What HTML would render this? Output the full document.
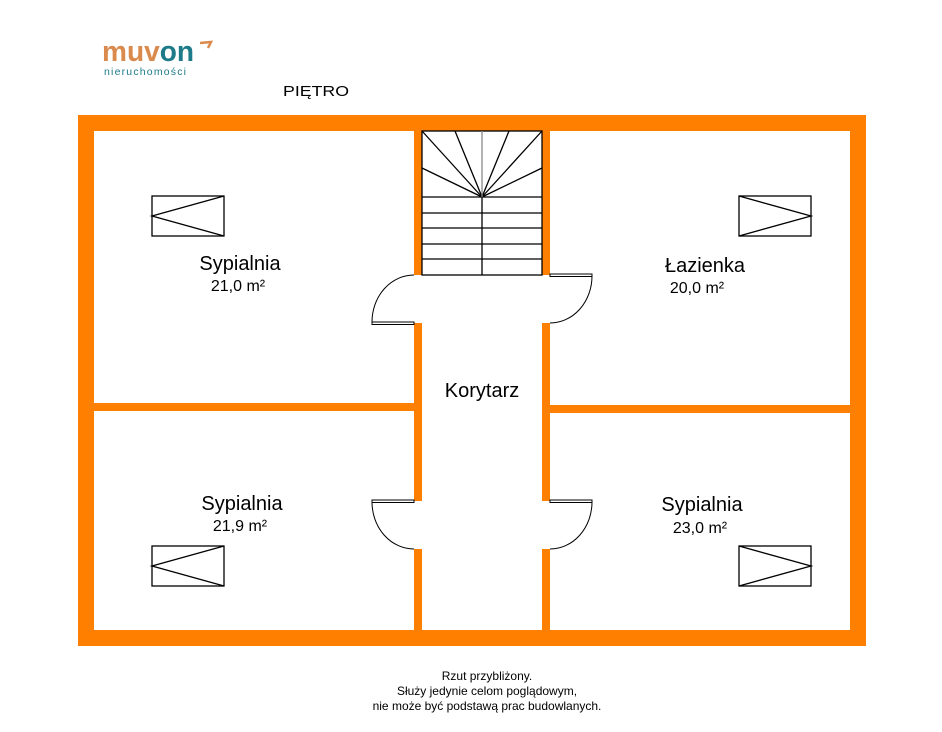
<!DOCTYPE html>
<html><head><meta charset="utf-8"><style>
html,body{margin:0;padding:0;background:#fff;}
svg{display:block;}
text{font-family:"Liberation Sans","DejaVu Sans",sans-serif;}
</style></head><body>
<svg width="942" height="732" viewBox="0 0 942 732" xmlns="http://www.w3.org/2000/svg">
<rect width="942" height="732" fill="#fff"/>
<!-- logo -->
<text x="102" y="61" font-size="29" font-weight="bold" fill="#d98a4c" textLength="92" lengthAdjust="spacingAndGlyphs">muv<tspan fill="#1d7a88">on</tspan></text>
<path d="M200 43 L211 42 L208 48" fill="none" stroke="#d98a4c" stroke-width="2.5"/>
<text x="104" y="75" font-size="10.5" fill="#1d7a88" textLength="82">nieruchomości</text>
<text x="283" y="96" font-size="15" font-family="DejaVu Sans Mono, monospace" font-weight="200" fill="#000" textLength="66" lengthAdjust="spacingAndGlyphs">PIĘTRO</text>
<!-- walls -->
<g fill="#ff8000">
<rect x="78" y="115" width="788" height="16"/>
<rect x="78" y="630" width="788" height="16"/>
<rect x="78" y="115" width="16" height="531"/>
<rect x="850" y="115" width="16" height="531"/>
<rect x="94" y="403" width="320" height="8"/>
<rect x="550" y="405" width="300" height="8"/>
<rect x="414" y="131" width="8" height="144"/>
<rect x="414" y="323" width="8" height="178"/>
<rect x="414" y="549" width="8" height="81"/>
<rect x="542" y="131" width="8" height="144"/>
<rect x="542" y="323" width="8" height="178"/>
<rect x="542" y="549" width="8" height="81"/>
</g>
<!-- stairs -->
<g stroke="#000" stroke-width="1.3" fill="none">
<rect x="422" y="131" width="120" height="144"/>
<line x1="422" y1="197" x2="542" y2="197"/>
<line x1="422" y1="213" x2="542" y2="213"/>
<line x1="422" y1="228" x2="542" y2="228"/>
<line x1="422" y1="244" x2="542" y2="244"/>
<line x1="422" y1="259" x2="542" y2="259"/>
<line x1="482" y1="197" x2="482" y2="275"/>
<line x1="482" y1="197" x2="422" y2="131"/>
<line x1="482" y1="197" x2="455" y2="131"/>
<line x1="482" y1="197" x2="509" y2="131"/>
<line x1="482" y1="197" x2="542" y2="131"/>
<line x1="482" y1="197" x2="422" y2="168"/>
<line x1="482" y1="197" x2="542" y2="168"/>
<line x1="482" y1="197" x2="482" y2="131" stroke="#888"/>
</g>
<!-- doors -->
<g stroke="#000" stroke-width="1" fill="none">
<rect x="372" y="322" width="42" height="2.5" fill="#fff"/>
<path d="M372 322 A42 47 0 0 1 414 275"/>
<rect x="550" y="274" width="42" height="2.5" fill="#fff"/>
<path d="M592 276 A42 47 0 0 1 550 323"/>
<rect x="372" y="500" width="42" height="2.5" fill="#fff"/>
<path d="M372 502 A42 47 0 0 0 414 549"/>
<rect x="550" y="500" width="42" height="2.5" fill="#fff"/>
<path d="M592 502 A42 47 0 0 1 550 549"/>
</g>
<!-- windows -->
<g stroke="#000" stroke-width="1.3" fill="none">
<rect x="152" y="196" width="72" height="40"/><path d="M224 196 L152 216 L224 236"/>
<rect x="152" y="546" width="72" height="40"/><path d="M224 546 L152 566 L224 586"/>
<rect x="739" y="196" width="72" height="40"/><path d="M739 196 L811 216 L739 236"/>
<rect x="739" y="546" width="72" height="40"/><path d="M739 546 L811 566 L739 586"/>
</g>
<!-- labels -->
<g fill="#000" text-anchor="middle">
<text x="240" y="270" font-size="20">Sypialnia</text>
<text x="238" y="291" font-size="16">21,0 m²</text>
<text x="705" y="272" font-size="20">Łazienka</text>
<text x="697" y="293" font-size="16">20,0 m²</text>
<text x="482" y="397" font-size="20">Korytarz</text>
<text x="242" y="510" font-size="20">Sypialnia</text>
<text x="240" y="531" font-size="16">21,9 m²</text>
<text x="702" y="511" font-size="20">Sypialnia</text>
<text x="700" y="533" font-size="16">23,0 m²</text>
<text x="487" y="680" font-size="12">Rzut przybliżony.</text>
<text x="487" y="695" font-size="12">Służy jedynie celom poglądowym,</text>
<text x="487" y="710" font-size="12">nie może być podstawą prac budowlanych.</text>
</g>
</svg>
</body></html>
